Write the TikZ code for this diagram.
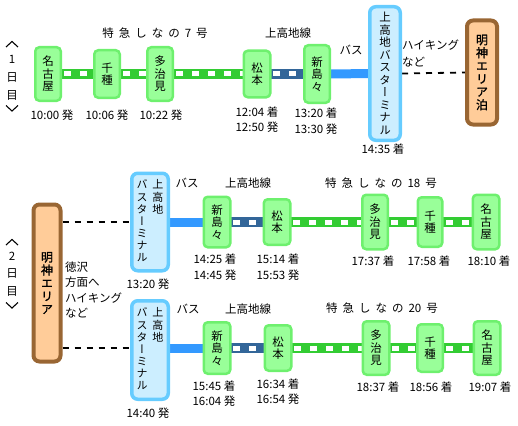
\documentclass[tikz,border=0pt]{standalone}
\usepackage{fontspec}
\newfontfamily\jp{Noto Sans CJK JP}
\newfontfamily\jpv[RawFeature=+vert]{Noto Sans CJK JP}
\newfontfamily\jpvb[RawFeature=+vert,FakeBold=1.5]{Noto Sans CJK JP}
\usetikzlibrary{backgrounds}
\definecolor{stf}{RGB}{153,255,153}
\definecolor{stb}{RGB}{110,240,110}
\definecolor{tmf}{RGB}{204,238,255}
\definecolor{tmb}{RGB}{102,204,255}
\definecolor{arf}{RGB}{255,204,153}
\definecolor{arb}{RGB}{153,102,51}
\definecolor{trg}{RGB}{51,204,51}
\definecolor{trb}{RGB}{51,102,153}
\definecolor{busc}{RGB}{51,153,255}
\newcommand{\gp}{\hspace*{5pt}}
\begin{document}
\begin{tikzpicture}[x=1pt,y=-1pt,
  stn/.style={draw=stb, fill=stf, line width=2.5pt, rounded corners=4pt, inner sep=0pt, align=center, font=\jpv\fontsize{11.5}{12.5}\selectfont},
  term/.style={draw=tmb, fill=tmf, line width=3.5pt, rounded corners=6pt, inner sep=0pt, align=center, font=\jpv\fontsize{11.5}{12.5}\selectfont},
  area/.style={draw=arb, fill=arf, line width=4pt, rounded corners=6pt, inner sep=0pt, align=center, font=\jpvb\fontsize{12}{13}\selectfont},
  sz/.style 2 args={minimum width=#1, minimum height=#2},
  gtrack/.style={draw=trg, line width=10pt, postaction={draw=white, line width=5pt, dash pattern=on 7pt off 9pt}},
  btrack/.style={draw=trb, line width=10pt, postaction={draw=white, line width=5pt, dash pattern=on 7pt off 9pt}},
  bus/.style={draw=busc, line width=9pt},
  walk/.style={draw=black, line width=1.8pt, dash pattern=on 6pt off 6pt},
  tm/.style={font=\jp\fontsize{11.5}{15.5}\selectfont, align=center, inner sep=0pt},
  lab/.style={font=\jp\fontsize{11.5}{15}\selectfont, inner sep=0pt},
  day/.style={font=\jp\fontsize{11.5}{18}\selectfont, align=center, inner sep=0pt},
  chev/.style={draw=black, line width=1.1pt}
]
\useasboundingbox (0,0) rectangle (518,425);

% ---------- Day 1 ----------
\node[day] (d1) at (12,78) {1\\日\\目};
\draw[chev] (6,47) -- (12,41.5) -- (18,47);
\draw[chev] (6,105.5) -- (12,111) -- (18,105.5);
\node[stn, sz={25.5pt}{53.5pt}] (nag1) at (48,74) {名\\古\\屋};
\node[stn, sz={25.5pt}{47.5pt}] (chi1) at (107,74) {千\\種};
\node[stn, sz={25.5pt}{53.5pt}] (taj1) at (160,74) {多\\治\\見};
\node[stn, sz={26.5pt}{46.5pt}] (mat1) at (257,74) {松\\本};
\node[stn, sz={25.5pt}{57.5pt}] (nis1) at (317,74) {新\\島\\々};
\node[term, sz={30.5pt}{133.5pt}] (term1) at (385,73.5) {上\\高\\地\\バ\\ス\\タ\\ー\\ミ\\ナ\\ル};
\node[area, sz={30pt}{104pt}] (myo1) at (482,72.5) {明\\神\\エ\\リ\\ア\\泊};

\node[lab] (l1a) at (155,33) {特\gp 急\gp し\gp な\gp の\gp 7\gp 号};
\node[lab] (l1b) at (288,33) {上高地線};
\node[lab] (l1c) at (351,50) {バス};
\node[lab, align=left, anchor=west, font=\jp\fontsize{11.5}{17}\selectfont] (l1d) at (402,53.5) {ハイキング\\など};

\node[tm] (t1a) at (52,115) {10:00 発};
\node[tm] (t1b) at (107,115) {10:06 発};
\node[tm] (t1c) at (161,115) {10:22 発};
\node[tm] (t1d) at (257,119.5) {12:04 着\\12:50 発};
\node[tm] (t1e) at (316,121) {13:20 着\\13:30 発};
\node[tm] (t1f) at (383,149) {14:35 着};

\begin{scope}[on background layer]
\draw[gtrack] (nag1.center) -- (chi1.center);
\draw[gtrack] (chi1.center) -- (taj1.center);
\draw[gtrack] (taj1.center) -- (mat1.center);
\draw[btrack] (mat1.center) -- (nis1.center);
\draw[bus] (nis1.center) -- (term1.center);
\draw[walk] (term1.east) -- (myo1.west);
\end{scope}

% ---------- Day 2 ----------
\node[day, font=\jp\fontsize{11.5}{17.5}\selectfont] (d2) at (12,274) {2\\日\\目};
\draw[chev] (6,245) -- (12,239.5) -- (18,245);
\draw[chev] (6,302.5) -- (12,308) -- (18,302.5);
\node[area, sz={27pt}{157pt}] (myo2) at (47,283) {明\\神\\エ\\リ\\ア};
\node[lab, align=left, anchor=west, font=\jp\fontsize{11.5}{15.3}\selectfont] (l2x) at (65,290) {徳沢\\方面へ\\ハイキング\\など};

% upper route
\node[term, sz={36.5pt}{97.5pt}, font=\jpv\fontsize{11}{11.6}\selectfont] (term2) at (150,222)
  {\begin{tabular}{@{}c@{\hspace{5pt}}c@{}}バ&上\\ス&高\\タ&地\\ー&\\ミ&\\ナ&\\ル&\end{tabular}};
\node[stn, sz={26.5pt}{50.5pt}] (nis2) at (217,222) {新\\島\\々};
\node[stn, sz={26.5pt}{45.5pt}] (mat2) at (277,222) {松\\本};
\node[stn, sz={25.5pt}{54.5pt}] (taj2) at (375,222) {多\\治\\見};
\node[stn, sz={24.5pt}{49.5pt}] (chi2) at (430,222) {千\\種};
\node[stn, sz={26.5pt}{54.5pt}] (nag2) at (486,222) {名\\古\\屋};

\node[lab] (l2a) at (187,183) {バス};
\node[lab] (l2b) at (248,183) {上高地線};
\node[lab] (l2c) at (381,183) {特\gp 急\gp し\gp な\gp の\gp 18\gp 号};

\node[tm] (t2a) at (148,284) {13:20 発};
\node[tm] (t2b) at (215,267) {14:25 着\\14:45 発};
\node[tm] (t2c) at (278,267) {15:14 着\\15:53 発};
\node[tm] (t2d) at (373,261) {17:37 着};
\node[tm] (t2e) at (429,261) {17:58 着};
\node[tm] (t2f) at (489,261) {18:10 着};

% lower route
\node[term, sz={36.5pt}{98.5pt}, font=\jpv\fontsize{11}{11.6}\selectfont] (term3) at (150,350)
  {\begin{tabular}{@{}c@{\hspace{5pt}}c@{}}バ&上\\ス&高\\タ&地\\ー&\\ミ&\\ナ&\\ル&\end{tabular}};
\node[stn, sz={26.5pt}{51.5pt}] (nis3) at (217,348) {新\\島\\々};
\node[stn, sz={26.5pt}{45.5pt}] (mat3) at (278,348) {松\\本};
\node[stn, sz={26.5pt}{53.5pt}] (taj3) at (376,348) {多\\治\\見};
\node[stn, sz={25.5pt}{47.5pt}] (chi3) at (430,348) {千\\種};
\node[stn, sz={26.5pt}{53.5pt}] (nag3) at (487,348) {名\\古\\屋};

\node[lab] (l3a) at (188,309) {バス};
\node[lab] (l3b) at (248,309) {上高地線};
\node[lab] (l3c) at (382,308) {特\gp 急\gp し\gp な\gp の\gp 20\gp 号};

\node[tm] (t3a) at (148,413) {14:40 発};
\node[tm] (t3b) at (214,393.5) {15:45 着\\16:04 発};
\node[tm] (t3c) at (278,391.5) {16:34 着\\16:54 発};
\node[tm] (t3d) at (378,387) {18:37 着};
\node[tm] (t3e) at (431,387) {18:56 着};
\node[tm] (t3f) at (490,387) {19:07 着};

\begin{scope}[on background layer]
\draw[walk] (myo2.east |- term2.center) -- (term2.west);
\draw[bus] (term2.center) -- (nis2.center);
\draw[btrack] (nis2.center) -- (mat2.center);
\draw[gtrack] (mat2.center) -- (taj2.center);
\draw[gtrack] (taj2.center) -- (chi2.center);
\draw[gtrack] (chi2.center) -- (nag2.center);
\draw[walk] (myo2.east |- nis3.center) -- (term3.west |- nis3.center);
\draw[bus] (term3.center |- nis3.center) -- (nis3.center);
\draw[btrack] (nis3.center) -- (mat3.center);
\draw[gtrack] (mat3.center) -- (taj3.center);
\draw[gtrack] (taj3.center) -- (chi3.center);
\draw[gtrack] (chi3.center) -- (nag3.center);
\end{scope}
\end{tikzpicture}
\end{document}
